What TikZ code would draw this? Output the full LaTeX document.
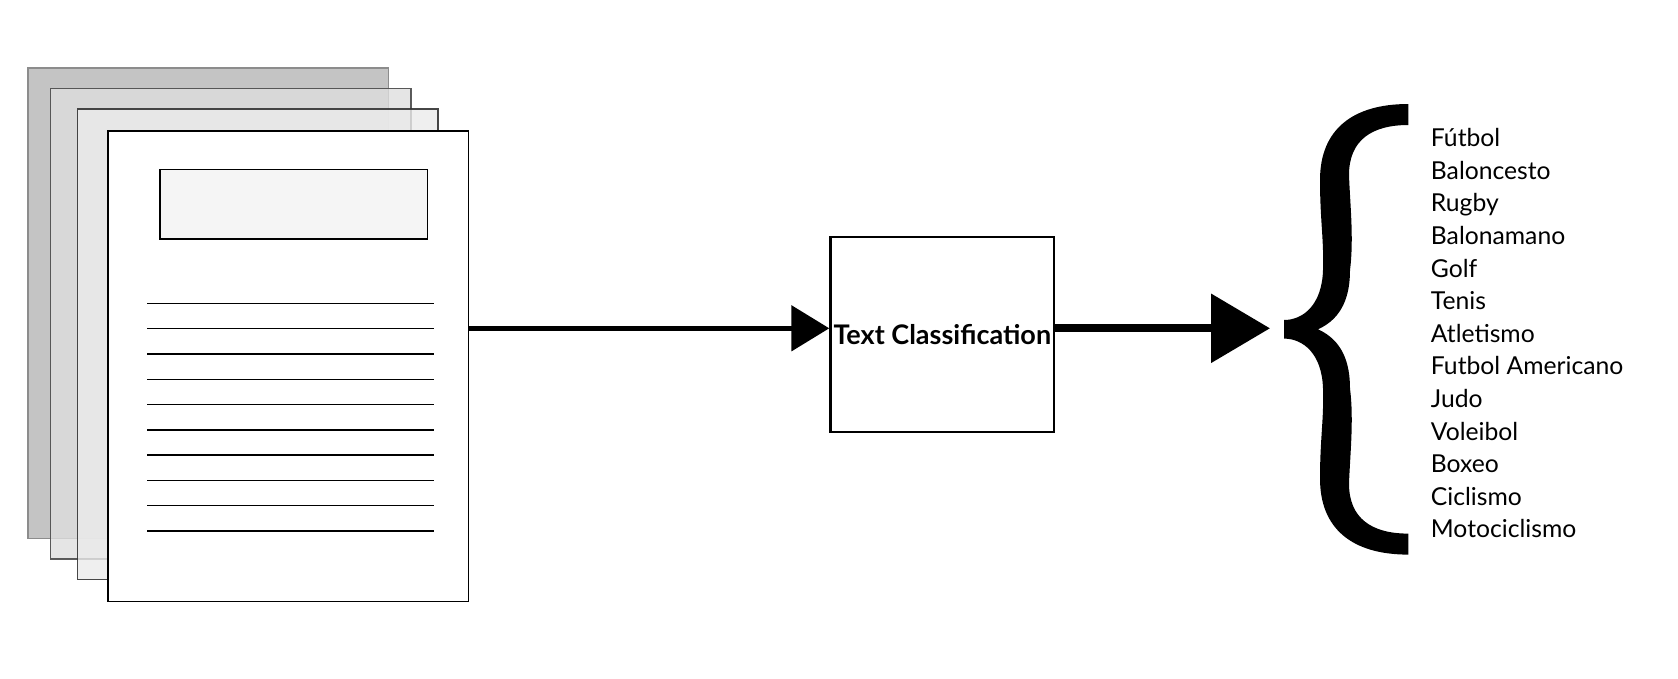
\documentclass[tikz,border=0pt]{standalone}
\usepackage{fontspec}
\setmainfont{Lato}
\usetikzlibrary{positioning,arrows.meta}
\colorlet{colHojaUno}{black!23}
\colorlet{colHojaDos}{black!13}
\colorlet{colHojaTres}{black!8}
\colorlet{colTitulo}{black!4}

\begin{document}
\begin{tikzpicture}[x=1pt, y=-1pt,
        hoja/.style={draw, rectangle, inner sep=0pt, minimum width=360.5pt, minimum height=470.5pt, line width=1.5pt},
        titulo/.style={draw, fill=colTitulo, inner sep=0pt, minimum width=267.8pt, minimum height=69.5pt, line width=1.5pt},
        renglon/.style={line width=1.4pt},
        clasif/.style={draw, inner sep=0pt, minimum width=223.3pt, minimum height=195pt, line width=2.7pt, font=\fontsize{27}{32}\selectfont\bfseries},
        deporte/.style={anchor=base west, inner sep=0pt, font=\fontsize{24.7}{30}\selectfont},
        arr/.style={-{Triangle[length=38pt, width=45pt]}, line width=5.3pt},
        arrgrande/.style={-{Triangle[length=59pt, width=67.5pt]}, line width=8pt}
    ]
    \useasboundingbox (0,0) rectangle (1678,678);

    % Documentos
    \node[hoja, fill=colHojaUno, draw=black!45] (hoja1) at (208.3,303.2) {};
    \node[hoja, fill=colHojaDos, draw=black!75, fill opacity=0.8, draw opacity=0.85] (hoja2) at (230.5,323.5) {};
    \node[hoja, fill=colHojaTres, draw=black!80, fill opacity=0.8, draw opacity=0.9] (hoja3) at (257.8,344) {};
    \node[hoja, fill=white] (hoja4) at (288.2,366.4) {};
    \node[titulo] (tit) at (293.7,204.3) {};
    \foreach \k in {0,...,9}
        \draw[renglon] (147,303.5+25.28*\k) -- (434.3,303.5+25.28*\k);

    % Clasificador
    \node[clasif] (clf) at (942.3,334.5) {Text Classification};
    \coordinate (nivel) at (0,328.3);
    \coordinate (punta) at (1270,328.3);

    % Conexiones
    \draw[arr] (hoja4.east |- nivel) -- (clf.west |- nivel);
    \draw[arrgrande] (clf.east |- nivel) -- (punta);

    % Llave
    \fill (1408.3,104)
        .. controls (1352,104) and (1320,130) .. (1320,180)
        .. controls (1320,220) and (1324,240) .. (1323,270)
        .. controls (1322,305) and (1303,320) .. (1284,320)
        -- (1284,338.6)
        .. controls (1303,338.6) and (1322,353.6) .. (1323,388.6)
        .. controls (1324,418.6) and (1320,438.6) .. (1320,478.6)
        .. controls (1320,528.6) and (1352,554.6) .. (1408.3,554.6)
        -- (1408.3,533.6)
        .. controls (1372,533.6) and (1349,518.6) .. (1349,483.6)
        .. controls (1350,455) and (1354,420) .. (1350,388.6)
        .. controls (1350,363.6) and (1343,340.6) .. (1318,329.3)
        .. controls (1343,318) and (1350,295) .. (1350,270)
        .. controls (1354,238.6) and (1350,204) .. (1349,175)
        .. controls (1349,140) and (1372,125) .. (1408.3,125)
        -- cycle;

    % Categorias
    \foreach \dep [count=\i from 0] in {F\'utbol, Baloncesto, Rugby, Balonamano, Golf, Tenis, Atletismo, Futbol Americano, Judo, Voleibol, Boxeo, Ciclismo, Motociclismo}
        \node[deporte] (dep\i) at (1430.7,146.7+32.6*\i) {\dep};

\end{tikzpicture}
\end{document}
